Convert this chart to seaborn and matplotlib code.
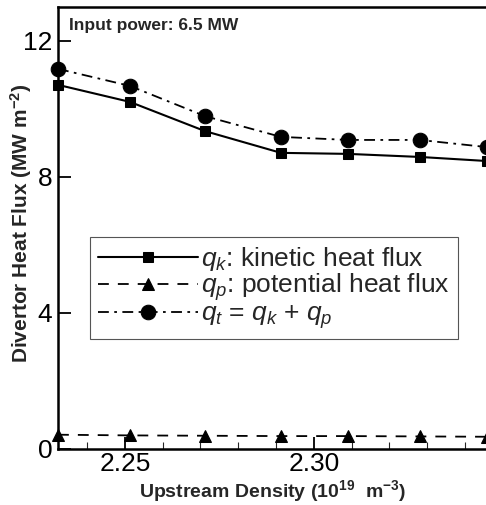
import matplotlib
matplotlib.use("Agg")
import matplotlib.pyplot as plt
import numpy as np
import pandas as pd
import seaborn as sns
from matplotlib.ticker import MultipleLocator

sns.set_theme(style="ticks")
plt.rcParams["font.family"] = ["Liberation Sans", "DejaVu Sans"]
plt.rcParams["mathtext.fontset"] = "custom"
plt.rcParams["mathtext.rm"] = "Liberation Sans"
plt.rcParams["mathtext.it"] = "Liberation Sans:italic"
plt.rcParams["mathtext.bf"] = "Liberation Sans:bold"
plt.rcParams["mathtext.default"] = "regular"

# upstream density (1e19 m^-3)
density = [2.2323, 2.2513, 2.2712, 2.2913, 2.3090, 2.3280, 2.3458]
q_kinetic = [10.71, 10.21, 9.35, 8.71, 8.68, 8.59, 8.47]
q_potential = [0.42, 0.40, 0.39, 0.38, 0.38, 0.37, 0.36]
q_total = [11.18, 10.68, 9.79, 9.18, 9.09, 9.09, 8.88]

labels = [
    r"$\mathit{q_k}$: kinetic heat flux",
    r"$\mathit{q_p}$: potential heat flux",
    r"$\mathit{q_t}$ = $\mathit{q_k}$ + $\mathit{q_p}$",
]

df = pd.DataFrame({"density": density, "qk": q_kinetic, "qp": q_potential, "qt": q_total})

fig = plt.figure(figsize=(4.86, 5.05), dpi=100)
ax = fig.add_axes([58 / 486, 56 / 505, 430 / 486, 442 / 505])

sns.lineplot(data=df, x="density", y="qk", ax=ax, color="black", lw=1.5,
             marker="s", markersize=7.5, markeredgecolor="black", label=labels[0])
sns.lineplot(data=df, x="density", y="qp", ax=ax, color="black", lw=1.3,
             marker="^", markersize=8, markeredgecolor="black", label=labels[1],
             linestyle=(0, (6, 5)))
sns.lineplot(data=df, x="density", y="qt", ax=ax, color="black", lw=1.3,
             marker="o", markersize=10.5, markeredgecolor="black", label=labels[2],
             linestyle=(0, (6, 3, 1.5, 3)))

for ln in ax.get_lines():
    ln.set_clip_on(False)

ax.set_xlim(2.2323, 2.3461)
ax.set_ylim(0, 13)
ax.xaxis.set_major_locator(MultipleLocator(0.05))
ax.xaxis.set_minor_locator(MultipleLocator(0.01))
ax.yaxis.set_major_locator(MultipleLocator(4))
ax.xaxis.set_major_formatter(matplotlib.ticker.FormatStrFormatter("%.2f"))
ax.tick_params(axis="both", which="major", direction="in", length=9, width=1.3,
               labelsize=19, color="black", labelcolor="black")
ax.tick_params(axis="x", which="minor", direction="in", length=5, width=0.8)
ax.tick_params(axis="x", pad=2)
ax.tick_params(axis="y", pad=4)

for s in ax.spines.values():
    s.set_linewidth(1.8)
    s.set_color("black")

ax.set_xlabel("Upstream Density (10$^{19}$  m$^{-3}$)", fontsize=14, fontweight="bold", labelpad=2)
ax.set_ylabel("Divertor Heat Flux (MW m$^{-2}$)", fontsize=15, fontweight="bold")
ax.yaxis.set_label_coords(-0.056, 0.51)

ax.text(0.026, 0.976, "Input power: 6.5 MW", transform=ax.transAxes, fontsize=12.5,
        fontweight="bold", ha="left", va="top")

leg = ax.legend(loc="upper left", bbox_to_anchor=(32 / 430, 212 / 442), fontsize=19,
                handlelength=3.8, handletextpad=0.1, labelspacing=-0.05,
                borderpad=0.3, borderaxespad=0, fancybox=False, framealpha=1)
leg.get_frame().set_edgecolor("#555555")
leg.get_frame().set_linewidth(0.8)

fig.savefig("out.png", dpi=100)
